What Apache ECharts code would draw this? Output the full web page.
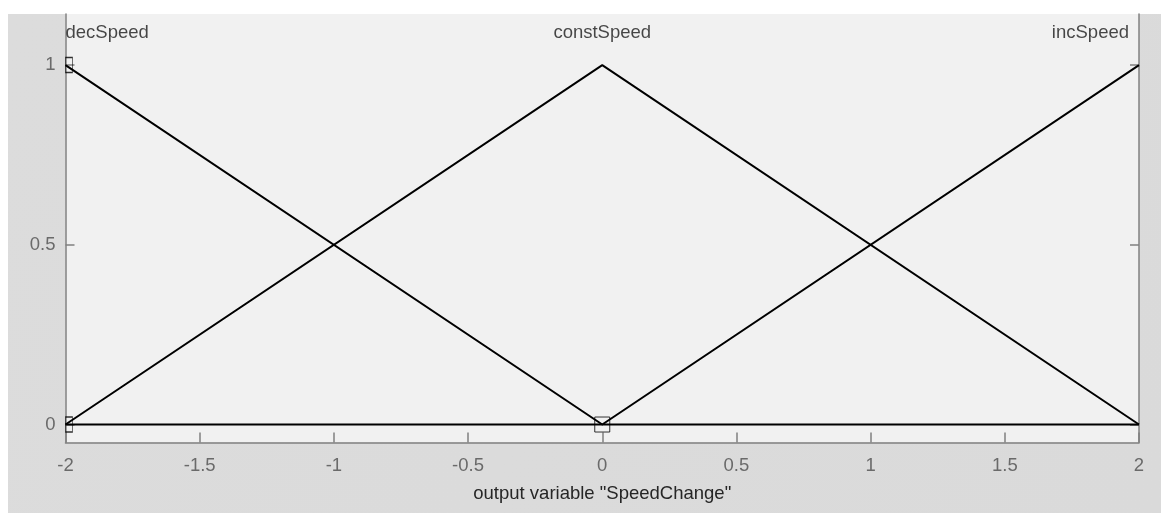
<!DOCTYPE html>
<html>
<head>
<meta charset="utf-8">
<script src="https://cdn.jsdelivr.net/npm/echarts@6/dist/echarts.min.js"></script>
<style>html,body{margin:0;padding:0;background:#fff;}#c{width:1161px;height:513px;}</style>
</head>
<body>
<div id="c"></div>
<script>
var mfNames = ['decSpeed', 'constSpeed', 'incSpeed'];
var decSpeed = [[-2, 1], [0, 0], [2, 0]];
var constSpeed = [[-2, 0], [0, 1], [2, 0]];
var incSpeed = [[-2, 0], [0, 0], [2, 1]];
var nameX = [-2, 0, 2];
var nameY = 1.09;
var edgeMarkers = [[-2, 1], [-2, 0]];
var centerMarkers = [[0, 0]];
var xTicks = [-2, -1.5, -1, -0.5, 0, 0.5, 1, 1.5, 2];
var yTicks = [0, 0.5, 1];
var xLabel = 'output variable "SpeedChange"';

var chart = echarts.init(document.getElementById('c'));
var FONT = '"Liberation Sans", Arial, Helvetica, sans-serif';
var FS = 18.5;
var lineStyle = {color: '#000', width: 2};
function mfSeries(data) {
  return {type: 'line', data: data, showSymbol: false, symbol: 'none', lineStyle: lineStyle, silent: true, animation: false, z: 3};
}
var yAxisBase = {
  type: 'value', min: -0.05, max: 1.142,
  splitLine: {show: false},
  axisLine: {show: true, onZero: false, lineStyle: {color: '#808080', width: 1.5}},
  axisTick: {show: true, inside: true, length: 9, customValues: yTicks, lineStyle: {color: '#808080', width: 1.5}}
};
chart.setOption({
  animation: false,
  graphic: [{
    type: 'rect', z: -100, silent: true,
    shape: {x: 8, y: 14, width: 1161 - 8, height: 513 - 14},
    style: {fill: new echarts.graphic.LinearGradient(0, 0, 1, 1, [{offset: 0, color: '#dcdcdc'}, {offset: 1, color: '#dadada'}])}
  }],
  grid: {left: 65.5, right: 22, top: 14, bottom: 70.5, show: true, backgroundColor: '#f1f1f1', borderWidth: 0},
  xAxis: {
    type: 'value', min: -2, max: 2, interval: 0.5,
    splitLine: {show: false},
    axisLine: {show: true, onZero: false, lineStyle: {color: '#808080', width: 1.5}},
    axisTick: {show: true, inside: true, length: 10, lineStyle: {color: '#808080', width: 1.5}},
    axisLabel: {color: '#6a6a6a', fontSize: FS, fontFamily: FONT, margin: 14,
      formatter: function (v) { return xTicks.indexOf(v) >= 0 ? String(v) : ''; }},
    name: xLabel, nameLocation: 'middle', nameGap: 42,
    nameTextStyle: {color: '#262626', fontSize: FS, fontFamily: FONT}
  },
  yAxis: [
    Object.assign({}, yAxisBase, {
      position: 'left',
      axisLabel: {color: '#6a6a6a', fontSize: FS, fontFamily: FONT, margin: 10, customValues: yTicks,
        formatter: function (v) { return String(v); }}
    }),
    Object.assign({}, yAxisBase, {position: 'right', axisLabel: {show: false}})
  ],
  series: [
    mfSeries(decSpeed), mfSeries(constSpeed), mfSeries(incSpeed),
    {type: 'scatter', data: edgeMarkers, symbol: 'rect', symbolSize: [7, 15], symbolOffset: [3.5, 0],
      itemStyle: {color: 'rgba(0,0,0,0)', borderColor: '#000', borderWidth: 1}, z: 4, silent: true},
    {type: 'scatter', data: centerMarkers, symbol: 'rect', symbolSize: [15, 15],
      itemStyle: {color: 'rgba(0,0,0,0)', borderColor: '#000', borderWidth: 1}, z: 4, silent: true},
    {type: 'scatter', symbolSize: 0, silent: true, z: 5,
      data: mfNames.map(function (n, i) {
        var align = i === 0 ? 'left' : (i === mfNames.length - 1 ? 'right' : 'center');
        return {value: [nameX[i], nameY], name: n,
          label: {show: true, position: 'inside', formatter: n, align: align,
            offset: [i === 0 ? 0 : (i === mfNames.length - 1 ? -10 : 0), 0],
            color: '#1a1a1a', fontSize: FS, fontFamily: FONT}};
      })
    }
  ]
});
</script>
</body>
</html>
